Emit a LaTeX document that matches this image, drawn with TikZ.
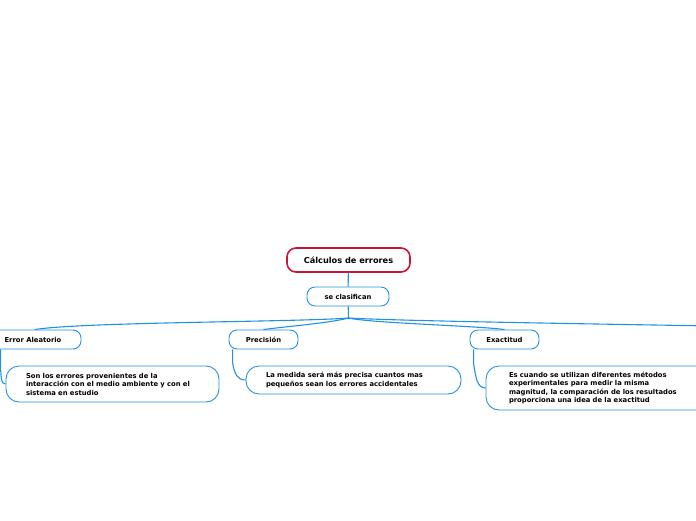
\documentclass[tikz,border=0pt]{standalone}
\usepackage{fontspec}
\setmainfont{DejaVu Sans}

\definecolor{topicblue}{RGB}{34,146,222}
\definecolor{rootred}{RGB}{204,20,52}

\tikzset{every picture/.style={line width=0.75pt}}
\tikzset{
  rootbox/.style={draw=rootred, line width=1.6, rounded corners=9, fill=white,
    minimum width=123, minimum height=24, font=\bfseries\fontsize{8.2}{10}\selectfont},
  topicbox/.style={draw=topicblue, line width=0.9, rounded corners=8, fill=white,
    minimum height=19, font=\bfseries\fontsize{6.8}{8}\selectfont},
  notebox/.style={draw=topicblue, line width=0.9, rounded corners=13, fill=white,
    align=left, inner xsep=20, font=\bfseries\fontsize{6.8}{8.5}\selectfont},
  branch/.style={draw=topicblue, line width=1.1},
}

\begin{document}
\begin{tikzpicture}[x=1pt,y=1pt,yscale=-1,xscale=1]
\useasboundingbox (0,0) rectangle (696,520);
\clip (0,0) rectangle (696,520);

% Central topic
\node [rootbox] (root) at (348.5,260) {Cálculos de errores};
\node [topicbox, minimum width=82] (clas) at (348,296.5) {se clasifican};
\coordinate (hub) at (348.5,318);

% Main topics
\node [topicbox, minimum width=96] (alea) at (33,339.5) {Error Aleatorio};
\node [topicbox, minimum width=69] (prec) at (263.5,339.5) {Precisión};
\node [topicbox, minimum width=69] (exac) at (504.5,339.5) {Exactitud};
\coordinate (more) at (712,326);

% Notes
\node [notebox, text width=173, minimum height=36] (aleanote) at (112.5,384)
  {Son los errores provenientes de la\\ interacción con el medio ambiente y con el\\ sistema en estudio};
\node [notebox, text width=175, minimum height=28] (precnote) at (353.5,380)
  {La medida será más precisa cuantos mas\\ pequeños sean los errores accidentales};
\node [notebox, inner xsep=23, text width=178, minimum height=44] (exacnote) at (598,388)
  {Es cuando se utilizan diferentes métodos\\ experimentales para medir la misma\\ magnitud, la comparación de los resultados\\ proporciona una idea de la exactitud};

% Connectors
\draw [branch] (root) -- (clas);
\draw [branch] (clas) -- (hub);
\draw [branch] (hub) .. controls (300,322) and (80,322) .. ([xshift=2pt]alea.north);
\draw [branch] (hub) .. controls (330,323) and (290,326) .. (prec.north);
\draw [branch] (hub) .. controls (370,323) and (480,326) .. (exac.north);
\draw [branch] (hub) .. controls (400,321) and (600,324) .. (more);

\draw [branch] ([xshift=16pt]alea.south west) -- ++(0,20) .. controls +(1,8) and +(-5,0) .. (aleanote.west);
\draw [branch] ([xshift=4pt]prec.south west) -- ++(0,13) .. controls +(2,12) and +(-8,0) .. (precnote.west);
\draw [branch] ([xshift=4pt]exac.south west) -- ++(0,13) .. controls +(2,16) and +(-8,0) .. (exacnote.west);

\end{tikzpicture}
\end{document}
